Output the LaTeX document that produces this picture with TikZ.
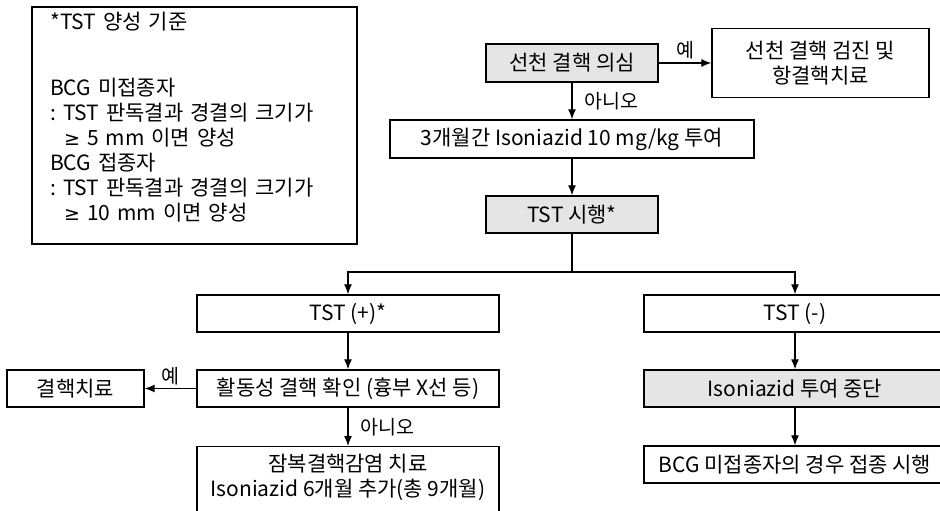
\documentclass[tikz,border=0pt]{standalone}
\usepackage{fontspec}
\setmainfont{Noto Sans CJK KR}
\newfontfamily\symfont{DejaVu Sans}
\usetikzlibrary{arrows.meta}
\newcommand{\geqsym}{{\symfont\fontsize{19}{25}\selectfont ≥}}
\frenchspacing
\begin{document}
\begin{tikzpicture}[x=1pt,y=-1pt,font=\fontsize{21}{25}\selectfont,
  box/.style={draw,line width=1.4pt,inner sep=0pt,minimum height=37pt,minimum width=302pt,align=center},
  graybox/.style={box,fill=gray!20},
  arr/.style={line width=1.3pt,-{Latex[length=10pt,width=8pt]}},
  lbl/.style={font=\fontsize{19.5}{20}\selectfont,inner sep=3pt}]
\useasboundingbox (0,0) rectangle (940,511);
\node[box,minimum width=325pt,minimum height=237pt] (crit) at (194.5,125.5) {};
\node[anchor=north west,inner sep=0pt,text width=300pt,align=left] (critlines) at (50,12) {*TST 양성 기준\\[41pt]BCG 미접종자\\: TST 판독결과 경결의 크기가\\\hspace*{14pt}\geqsym{} 5 mm 이면 양성\\BCG 접종자\\: TST 판독결과 경결의 크기가\\\hspace*{14pt}\geqsym{} 10 mm 이면 양성};
\node[graybox,minimum width=172pt,minimum height=38pt] (susp) at (572,63) {선천 결핵 의심};
\node[box,minimum width=217pt,minimum height=69pt] (screen) at (820.5,63) {선천 결핵 검진 및\\항결핵치료};
\node[box,minimum width=364pt,minimum height=38pt] (inh) at (572,139) {3개월간 Isoniazid 10 mg/kg 투여};
\node[graybox,minimum width=172pt] (tst) at (572,214.5) {TST 시행*};
\coordinate (split) at (572,272);
\node[box] (pos) at (348,313.5) {TST (+)*};
\node[box] (neg) at (795,313.5) {TST (-)};
\node[box] (active) at (348,388.5) {활동성 결핵 확인 (흉부 X선 등)};
\node[box,minimum width=137pt] (tbtx) at (75.5,388.5) {결핵치료};
\node[box,anchor=north,inner ysep=7pt,text depth=40pt] (ltbi) at (348,446) {잠복결핵감염 치료\\Isoniazid 6개월 추가(총 9개월)};
\node[graybox] (stop) at (795,388.5) {Isoniazid 투여 중단};
\node[box] (bcg) at (795,464.5) {BCG 미접종자의 경우 접종 시행};
\draw[arr] (susp) -- node[lbl,above]{예} (screen);
\draw[arr] (susp) -- node[lbl,right=9pt]{아니오} (inh);
\draw[arr] (inh) -- (tst);
\draw[line width=1.3pt] (tst) -- (split);
\draw[arr] (split) -| (pos);
\draw[arr] (split) -| (neg);
\draw[arr] (pos) -- (active);
\draw[arr] (active) -- node[lbl,above]{예} (tbtx);
\draw[arr] (active) -- node[lbl,right=9pt]{아니오} (ltbi);
\draw[arr] (neg) -- (stop);
\draw[arr] (stop) -- (bcg);
\end{tikzpicture}
\end{document}
